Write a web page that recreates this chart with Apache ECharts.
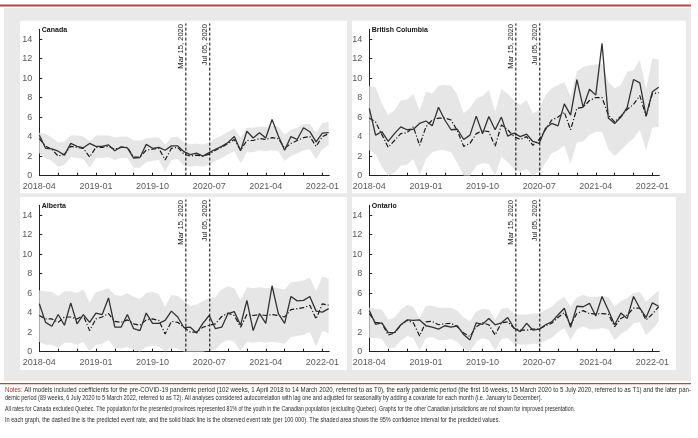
<!DOCTYPE html>
<html><head><meta charset="utf-8">
<script src="https://cdn.jsdelivr.net/npm/echarts/dist/echarts.min.js"></script>
<style>html,body{margin:0;padding:0;background:#fff}#c{width:698px;height:438px}</style>
</head><body><div id="c"></div>
<script>
// ---- data (month index 0 = 2018-04, 46 = 2022-02) ----
const xTickIdx = [0, 9, 18, 27, 36, 45];
const xTickLabels = ['2018-04', '2019-01', '2019-10', '2020-07', '2021-04', '2022-01'];
const xMinorTicks = [0, 3, 6, 9, 12, 15, 18, 21, 24, 27, 30, 33, 36, 39, 42, 45];
const yTicks = [0, 2, 4, 6, 8, 10, 12, 14];
const breakIdx = [23.3, 27.1];
const breakLabels = ['Mar 15, 2020', 'Jul 05, 2020'];
const panelNames = ['Canada', 'British Columbia', 'Alberta', 'Ontario'];

const obsCA = [4.15, 2.8, 2.75, 2.5, 2.1, 3.3, 3.0, 2.85, 3.3, 3.0, 3.0, 3.15, 2.55, 2.95, 2.85, 1.8, 1.85, 3.2, 2.8, 2.9, 2.6, 3.05, 3.05, 2.45, 2.15, 2.3, 2.0, 2.35, 2.7, 3.0, 3.4, 4.0, 2.55, 4.55, 3.85, 4.4, 3.85, 5.75, 4.05, 2.6, 4.0, 3.7, 4.9, 4.5, 3.45, 4.35, 4.4];
const predCA = [3.8, 3.0, 2.7, 2.0, 2.2, 3.0, 2.9, 2.8, 1.9, 2.9, 2.9, 3.0, 2.7, 2.9, 2.9, 1.9, 1.9, 2.6, 2.7, 2.8, 1.6, 2.8, 2.9, 2.2, 2.0, 2.1, 2.0, 2.2, 2.6, 2.9, 3.3, 3.7, 2.6, 3.6, 3.6, 3.8, 3.7, 3.9, 3.8, 2.8, 3.3, 3.6, 3.9, 4.0, 3.0, 4.0, 4.3];
const upCA = [4.4, 4.3, 3.9, 3.4, 3.5, 4.1, 4.1, 4.0, 3.5, 4.1, 4.1, 4.1, 3.9, 4.0, 4.0, 3.6, 3.6, 3.8, 3.9, 3.9, 3.2, 3.9, 4.0, 3.4, 3.2, 3.3, 3.2, 3.4, 3.8, 4.1, 4.5, 4.8, 3.9, 4.9, 4.9, 5.0, 5.0, 5.1, 5.0, 4.2, 4.7, 4.9, 5.3, 5.3, 4.4, 5.4, 5.5];
const lowCA = [2.3, 1.8, 1.5, 0.9, 1.1, 1.9, 1.8, 1.7, 0.8, 1.8, 1.8, 1.9, 1.6, 1.8, 1.8, 0.8, 0.8, 1.4, 1.5, 1.6, 0.4, 1.6, 1.7, 1.0, 0.9, 1.0, 0.9, 1.1, 1.5, 1.8, 2.2, 2.5, 1.3, 2.4, 2.4, 2.6, 2.5, 2.6, 2.5, 1.5, 2.0, 2.3, 2.6, 2.7, 1.7, 2.7, 3.1];

const obsBC = [6.9, 4.15, 4.5, 3.5, 4.3, 5.0, 4.7, 4.75, 5.35, 5.6, 5.1, 7.0, 5.7, 4.7, 4.75, 3.7, 4.15, 6.1, 4.3, 6.05, 4.7, 6.0, 4.05, 4.35, 4.0, 4.25, 3.5, 3.3, 4.85, 5.35, 5.1, 7.35, 6.2, 9.85, 7.0, 8.85, 8.25, 13.55, 5.9, 5.35, 6.0, 7.0, 9.85, 9.5, 6.1, 8.6, 9.05];
const predBC = [5.9, 5.5, 4.2, 2.9, 3.6, 4.3, 4.4, 5.0, 3.1, 5.0, 5.7, 5.9, 5.9, 5.7, 4.6, 3.0, 3.3, 4.3, 4.6, 4.5, 3.0, 5.2, 4.7, 4.0, 3.7, 4.0, 3.1, 3.7, 4.7, 5.7, 6.0, 6.5, 4.7, 6.9, 7.0, 7.7, 8.0, 8.0, 6.2, 5.5, 6.1, 6.8, 7.3, 8.2, 6.1, 8.4, 8.5];
const upBC = [9.2, 9.05, 7.4, 6.2, 6.7, 7.7, 7.8, 8.35, 6.7, 8.6, 8.4, 9.2, 9.3, 9.2, 8.3, 6.4, 6.9, 7.9, 8.15, 8.8, 6.55, 8.85, 8.4, 7.7, 7.25, 7.75, 6.4, 6.7, 8.25, 8.95, 9.3, 9.6, 8.1, 10.65, 11.15, 11.3, 11.4, 11.5, 9.6, 8.95, 9.3, 10.65, 10.8, 11.85, 8.85, 12.0, 11.9];
const lowBC = [2.6, 2.2, 0.9, 0, 0.3, 1.0, 1.1, 1.7, 0, 1.7, 2.4, 2.6, 2.6, 2.4, 1.3, 0, 0, 1.0, 1.3, 1.2, 0, 1.9, 1.4, 0.7, 0.4, 0.7, 0, 0.4, 1.3, 2.3, 2.6, 3.1, 1.2, 3.4, 3.5, 4.2, 4.5, 4.5, 2.7, 2.0, 2.6, 3.3, 3.8, 4.7, 2.6, 4.9, 5.0];

const obsAB = [4.9, 3.0, 2.6, 3.8, 2.7, 5.0, 2.85, 3.8, 3.0, 3.95, 3.8, 5.5, 2.5, 2.5, 3.8, 2.35, 2.15, 3.95, 2.9, 2.9, 3.2, 4.15, 3.55, 2.45, 2.5, 1.9, 2.9, 3.7, 2.35, 2.5, 3.9, 4.1, 2.7, 5.25, 2.15, 3.9, 2.9, 6.75, 3.9, 2.9, 5.65, 5.2, 5.25, 5.65, 4.15, 4.05, 4.4];
const predAB = [3.7, 3.35, 3.35, 3.0, 3.55, 3.55, 3.35, 3.7, 2.15, 3.35, 3.55, 3.9, 3.1, 3.0, 3.25, 2.85, 2.7, 3.25, 3.35, 3.2, 1.8, 3.1, 3.0, 2.5, 2.0, 2.0, 2.5, 2.7, 2.85, 3.6, 3.95, 3.7, 2.5, 3.8, 3.7, 3.8, 3.7, 3.8, 3.7, 3.55, 4.3, 4.4, 4.5, 4.75, 3.35, 4.9, 4.75];
const upAB = [6.3, 6.2, 6.1, 5.7, 6.2, 6.2, 6.0, 6.4, 5.0, 6.1, 6.3, 6.5, 5.8, 5.7, 6.0, 5.6, 5.4, 6.0, 6.1, 5.9, 4.6, 5.8, 5.7, 5.2, 4.7, 4.8, 5.2, 5.5, 5.6, 6.4, 6.7, 6.5, 5.3, 6.6, 6.5, 6.6, 6.5, 6.6, 6.5, 6.4, 7.1, 7.2, 7.3, 7.6, 6.2, 7.7, 7.5];
const lowAB = [1.0, 0.7, 0.7, 0.4, 0.9, 0.9, 0.7, 1.0, 0, 0.7, 0.8, 1.2, 0.4, 0.3, 0.5, 0.2, 0, 0.5, 0.6, 0.5, 0, 0.4, 0.3, 0, 0, 0, 0, 0.1, 0.2, 0.9, 1.2, 1.0, 0, 1.0, 0.9, 1.0, 0.9, 1.0, 0.9, 0.8, 1.5, 1.6, 1.7, 2.0, 0.5, 2.1, 1.9];

const obsON = [4.2, 2.8, 2.95, 1.95, 1.95, 2.75, 3.25, 3.2, 3.25, 2.65, 2.5, 2.3, 2.65, 2.5, 2.65, 1.75, 1.2, 2.95, 2.8, 3.4, 2.75, 2.95, 3.5, 2.4, 2.05, 2.9, 2.2, 2.3, 2.75, 3.05, 3.75, 4.45, 2.5, 4.65, 4.6, 4.95, 3.65, 5.65, 4.25, 2.75, 3.95, 3.4, 5.65, 4.45, 3.5, 5.0, 4.65];
const predON = [3.9, 3.0, 2.9, 1.7, 1.9, 2.7, 3.2, 2.95, 1.6, 3.05, 3.1, 2.75, 2.85, 2.9, 2.55, 1.9, 1.55, 2.55, 2.95, 2.75, 1.7, 2.95, 3.05, 2.4, 2.2, 2.2, 2.3, 2.3, 2.65, 2.9, 3.5, 4.0, 2.75, 3.9, 4.2, 3.9, 3.85, 3.9, 3.85, 2.55, 3.4, 3.75, 4.45, 4.45, 3.25, 3.85, 4.6];
const upON = [4.5, 4.4, 4.3, 3.3, 3.5, 4.3, 4.8, 4.6, 3.4, 4.7, 4.7, 4.5, 4.5, 4.5, 4.2, 3.5, 3.1, 4.1, 4.4, 4.3, 3.3, 4.4, 4.5, 3.9, 3.8, 3.8, 3.9, 3.9, 4.3, 4.6, 5.2, 5.6, 4.6, 5.6, 5.8, 5.6, 5.6, 5.7, 5.6, 4.6, 5.2, 5.5, 6.0, 6.1, 5.1, 5.7, 6.3];
const lowON = [1.4, 1.4, 1.3, 0.3, 0.4, 1.1, 1.6, 1.4, 0.1, 1.4, 1.5, 1.2, 1.2, 1.3, 1.0, 0.3, 0, 1.0, 1.4, 1.2, 0.1, 1.3, 1.4, 0.8, 0.7, 0.7, 0.8, 0.8, 1.1, 1.4, 2.0, 2.4, 1.2, 2.3, 2.6, 2.3, 2.3, 2.4, 2.3, 1.2, 1.8, 2.2, 2.9, 3.0, 1.7, 2.3, 3.1];

const notesLines = [
  'Notes: All models included coefficients for the pre-COVID-19 pandemic period (102 weeks, 1 April 2018 to 14 March 2020, referred to as T0), the early pandemic period (the first 16 weeks, 15 March 2020 to 5 July 2020, referred to as T1) and the later pan-',
  'demic period (89 weeks, 6 July 2020 to 5 March 2022, referred to as T2). All analyses considered autocorrelation with lag one and adjusted for seasonality by adding a covariate for each month (i.e. January to December).',
  'All rates for Canada excluded Quebec. The population for the presented provinces represented 81% of the youth in the Canadian population (excluding Quebec). Graphs for the other Canadian jurisdictions are not shown for improved presentation.',
  'In each graph, the dashed line is the predicted event rate, and the solid black line is the observed event rate (per 100 000). The shaded area shows the 95% confidence interval for the predicted values.'
];

// ---- layout ----
const panels = [
  {obs: obsCA, pred: predCA, up: upCA, low: lowCA},
  {obs: obsBC, pred: predBC, up: upBC, low: lowBC},
  {obs: obsAB, pred: predAB, up: upAB, low: lowAB},
  {obs: obsON, pred: predON, up: upON, low: lowON}
];
const gridPos = [
  {left: 39.3, top: 29.3}, {left: 369.3, top: 29.3},
  {left: 39.3, top: 205.3}, {left: 369.3, top: 205.3}
];
const GW = 290, GH = 146.3;
const FONT = '"Liberation Sans", Arial, sans-serif';

const chart = echarts.init(document.getElementById('c'), null, {renderer: 'canvas'});

const grids = [], xAxes = [], yAxes = [], series = [];
panels.forEach((p, k) => {
  grids.push({left: gridPos[k].left, top: gridPos[k].top, width: GW, height: GH, containLabel: false, outerBoundsMode: 'none'});
  xAxes.push({
    type: 'value', gridIndex: k, min: 0, max: 46.1,
    axisLine: {show: true, lineStyle: {color: '#222', width: 1}},
    axisTick: {show: true, inside: true, length: 3, customValues: xMinorTicks, lineStyle: {color: '#222'}},
    axisLabel: {customValues: xTickIdx, margin: 6, color: '#595959', fontSize: 9, fontFamily: FONT,
      formatter: v => { const i = xTickIdx.indexOf(v); return i >= 0 ? xTickLabels[i] : ''; }},
    splitLine: {show: false}
  });
  yAxes.push({
    type: 'value', gridIndex: k, min: 0, max: 15,
    axisLine: {show: true, lineStyle: {color: '#222', width: 1}},
    axisTick: {show: true, inside: true, length: 3, customValues: yTicks, lineStyle: {color: '#222'}},
    axisLabel: {customValues: yTicks, margin: 7, color: '#595959', fontSize: 9, fontFamily: FONT},
    splitLine: {show: false}
  });
  series.push({
    type: 'custom', xAxisIndex: k, yAxisIndex: k, z: 1, silent: true,
    data: p.up.map((v, i) => [i, v, p.low[i]]),
    renderItem: (params, api) => {
      if (params.dataIndex !== 0) return null;
      const pts = [];
      for (let i = 0; i < p.up.length; i++) pts.push(api.coord([i, p.up[i]]));
      for (let i = p.low.length - 1; i >= 0; i--) pts.push(api.coord([i, p.low[i]]));
      return {type: 'polygon', shape: {points: pts}, style: {fill: '#e6e6e6', stroke: null}};
    }
  });
  series.push({
    type: 'line', xAxisIndex: k, yAxisIndex: k, z: 3, symbol: 'none', silent: true,
    data: p.pred.map((v, i) => [i, v]),
    lineStyle: {color: '#1a1a1a', width: 1.2, type: [5, 2, 1.2, 2]}
  });
  series.push({
    type: 'line', xAxisIndex: k, yAxisIndex: k, z: 4, symbol: 'none', silent: true,
    data: p.obs.map((v, i) => [i, v]),
    lineStyle: {color: '#333', width: 1.3}
  });
  breakIdx.forEach(b => {
    series.push({
      type: 'line', xAxisIndex: k, yAxisIndex: k, z: 5, symbol: 'none', silent: true, clip: false,
      data: [[b, 0], [b, 15.6]],
      lineStyle: {color: '#000', width: 1, type: [3, 2]}
    });
  });
});

chart.setOption({
  animation: false,
  backgroundColor: '#fff',
  grid: grids, xAxis: xAxes, yAxis: yAxes, series: series
});

// ---- decorations / texts ----
const els = [];
els.push({type: 'rect', z: -20, silent: true, shape: {x: 0, y: 4.6, width: 691, height: 2}, style: {fill: '#b04a3e'}});
els.push({type: 'rect', z: -20, silent: true, shape: {x: 4, y: 8, width: 687, height: 373}, style: {fill: '#e9e9e9'}});
els.push({type: 'rect', z: -20, silent: true, shape: {x: 0, y: 383, width: 691, height: 1.3}, style: {fill: '#b04a3e'}});
const panelRects = [
  {x: 20, y: 20.7, w: 327, h: 172.5}, {x: 352, y: 20.7, w: 334, h: 172.5},
  {x: 20, y: 197, w: 327, h: 173}, {x: 352, y: 197, w: 324, h: 173}
];
panelRects.forEach(r => els.push({type: 'rect', z: -19, silent: true, shape: {x: r.x, y: r.y, width: r.w, height: r.h}, style: {fill: '#fff'}}));

panelNames.forEach((name, k) => {
  els.push({type: 'text', z: 50, silent: true, x: gridPos[k].left + 2.5, y: gridPos[k].top + 0.5,
    style: {text: name, font: 'bold 7px ' + FONT, fill: '#111', verticalAlign: 'middle', align: 'left'}});
  breakIdx.forEach((b, j) => {
    const pt = chart.convertToPixel({gridIndex: k}, [b, 15.6]);
    els.push({type: 'text', z: 50, silent: true, x: pt[0] - 0.8, y: pt[1] + 0.5, rotation: Math.PI / 2,
      style: {text: breakLabels[j], font: '7.6px ' + FONT, fill: '#222', align: 'right', verticalAlign: 'bottom'}});
  });
});

// notes text, condensed to fit the measured widths
const cv = document.createElement('canvas').getContext('2d');
const NFONT = '7px ' + FONT;
cv.font = NFONT;
const targets = [686, 537, 570, 495];
const ys = [389.6, 397.9, 408.6, 420.4];
notesLines.forEach((t, i) => {
  const w = cv.measureText(t).width;
  const sx = targets[i] / w;
  let txt = t, rich;
  if (i === 0) { txt = '{n|Notes:}' + t.slice(6); rich = {n: {fill: '#b8322a', font: NFONT}}; }
  els.push({type: 'text', z: 50, silent: true, x: 5, y: ys[i], scaleX: sx, scaleY: 1,
    style: {text: txt, font: NFONT, fill: '#2b2b2b', verticalAlign: 'middle', align: 'left', rich: rich}});
});

chart.setOption({graphic: {elements: els}});
</script>
</body></html>
